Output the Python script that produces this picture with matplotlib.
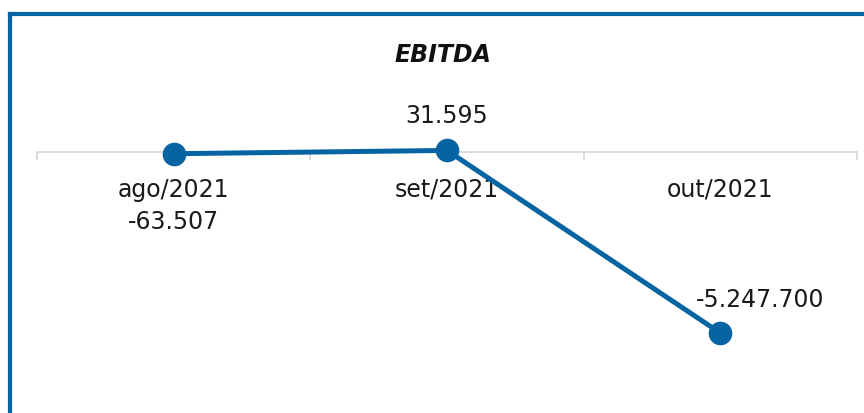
import matplotlib
matplotlib.use("Agg")
import matplotlib.pyplot as plt
from matplotlib.lines import Line2D

meses = ["ago/2021", "set/2021", "out/2021"]
ebitda = [-63507, 31595, -5247700]
# deslocamento dos rótulos de dados (pixels), como no Excel
desloc = [(0, -67), (0, 35), (40, 34)]

azul = "#0664A3"
cinza = "#D9D9D9"
plt.rcParams["font.family"] = ["DejaVu Sans"]

fig = plt.figure(figsize=(8.64, 4.14), dpi=100)
ax = fig.add_axes([37 / 864, 0, 820 / 864, 1])
ax.patch.set_visible(False)

x = list(range(len(meses)))
ax.plot(x, ebitda, color=azul, lw=3.6, marker="o", ms=16, solid_capstyle="round", zorder=3)

def fmt(v):
    return "{:,}".format(v).replace(",", ".")

for i, v in enumerate(ebitda):
    ax.annotate(fmt(v), (i, v), xytext=desloc[i], textcoords="offset pixels",
                ha="center", va="center", fontsize=17, color="#1a1a1a")

ax.set_xlim(-0.5, 2.5)
ax.set_ylim(-7.56e6, 4.41e6)

for s in ["left", "right", "top"]:
    ax.spines[s].set_visible(False)
ax.spines["bottom"].set_position(("data", 0))
ax.spines["bottom"].set_color(cinza)
ax.spines["bottom"].set_linewidth(1.3)
ax.spines["bottom"].set_zorder(1)

ax.set_yticks([])
ax.set_xticks([-0.5, 0.5, 1.5, 2.5])
ax.set_xticklabels([])
ax.tick_params(axis="x", which="major", direction="out", length=5.5, width=1.3, color=cinza)
ax.set_xticks(x, minor=True)
ax.set_xticklabels(meses, minor=True)
ax.tick_params(axis="x", which="minor", length=0, pad=18, labelsize=17, labelcolor="#1a1a1a")
for t in ax.get_xticklabels(minor=True):
    t.set_zorder(2)

fig.text(443 / 864, 1 - 55 / 414, "EBITDA", ha="center", va="center",
         fontsize=17, fontweight="bold", fontstyle="italic", color="#111111")

# moldura azul (cortada) do gráfico
fig.add_artist(Line2D([10 / 864, 10 / 864], [0, 1 - 15 / 414], transform=fig.transFigure,
                      color=azul, lw=3))
fig.add_artist(Line2D([10 / 864, 1], [1 - 15 / 414, 1 - 15 / 414], transform=fig.transFigure,
                      color=azul, lw=3))

fig.savefig("out.png", dpi=100)
